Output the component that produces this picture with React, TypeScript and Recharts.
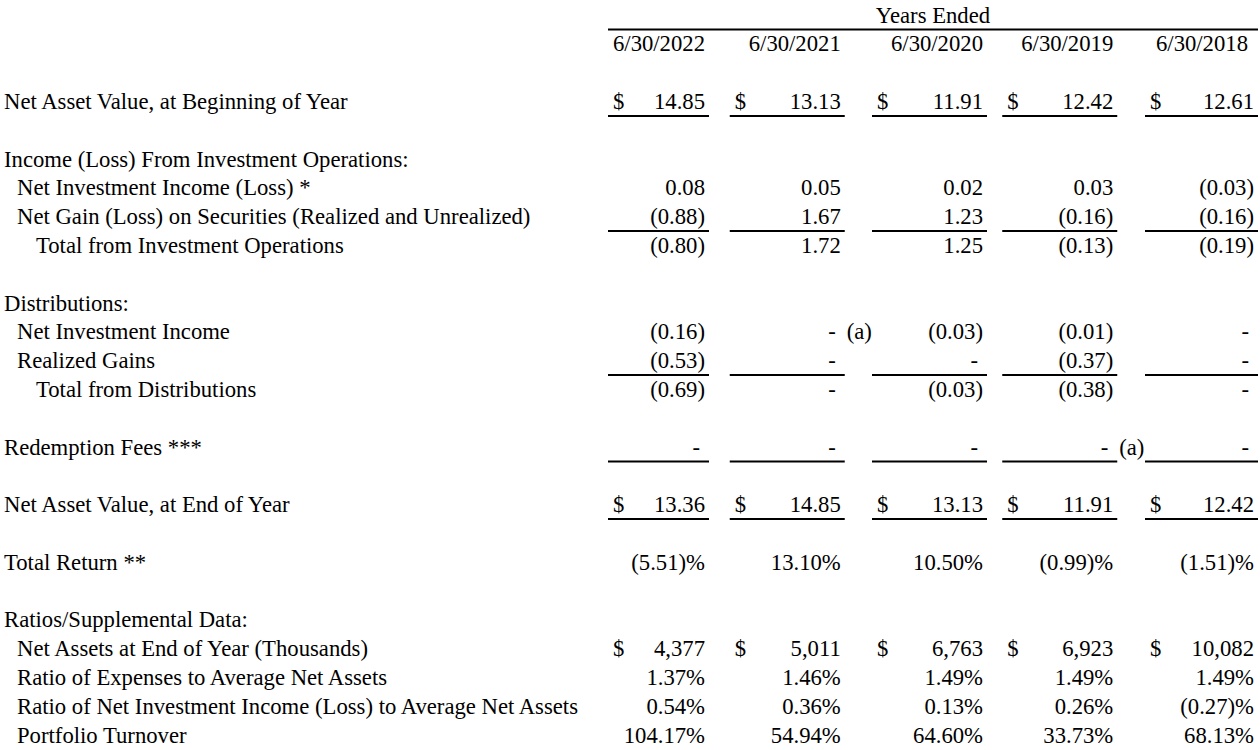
import { ScatterChart, Scatter, XAxis, YAxis } from 'recharts';

// column headers (fiscal years ended)
const years = ['6/30/2022', '6/30/2021', '6/30/2020', '6/30/2019', '6/30/2018'];

// per-share data, null = "-"
const navBeginning = [14.85, 13.13, 11.91, 12.42, 12.61];
const netInvestmentIncome = [0.08, 0.05, 0.02, 0.03, -0.03];
const netGainLoss = [-0.88, 1.67, 1.23, -0.16, -0.16];
const totalFromOperations = [-0.8, 1.72, 1.25, -0.13, -0.19];
const distNetInvestmentIncome = [-0.16, null, -0.03, -0.01, null];
const distRealizedGains = [-0.53, null, null, -0.37, null];
const totalDistributions = [-0.69, null, -0.03, -0.38, null];
const redemptionFees = [null, null, null, null, null];
const navEnd = [13.36, 14.85, 13.13, 11.91, 12.42];
const totalReturn = [-5.51, 13.1, 10.5, -0.99, -1.51];

// ratios / supplemental
const netAssetsThousands = [4377, 5011, 6763, 6923, 10082];
const expenseRatio = [1.37, 1.46, 1.49, 1.49, 1.49];
const netInvestmentIncomeRatio = [0.54, 0.36, 0.13, 0.26, -0.27];
const portfolioTurnover = [104.17, 54.94, 64.6, 33.73, 68.13];

// footnote marks
const distNiiNotes = [null, '(a)', null, null, null];
const redemptionNotes = [null, null, null, '(a)', null];

type Fmt = 'money' | 'pct' | 'thousands';

interface RowSpec {
  row: number;
  label: string;
  indent: number;
  values?: (number | null)[];
  fmt?: Fmt;
  dollar?: boolean;
  underline?: boolean;
  notes?: (string | null)[];
}

const ROWS: RowSpec[] = [
  { row: 3, label: 'Net Asset Value, at Beginning of Year', indent: 0, values: navBeginning, fmt: 'money', dollar: true, underline: true },
  { row: 5, label: 'Income (Loss) From Investment Operations:', indent: 0 },
  { row: 6, label: 'Net Investment Income (Loss) *', indent: 1, values: netInvestmentIncome, fmt: 'money' },
  { row: 7, label: 'Net Gain (Loss) on Securities (Realized and Unrealized)', indent: 1, values: netGainLoss, fmt: 'money', underline: true },
  { row: 8, label: 'Total from Investment Operations', indent: 2, values: totalFromOperations, fmt: 'money' },
  { row: 10, label: 'Distributions:', indent: 0 },
  { row: 11, label: 'Net Investment Income', indent: 1, values: distNetInvestmentIncome, fmt: 'money', notes: distNiiNotes },
  { row: 12, label: 'Realized Gains', indent: 1, values: distRealizedGains, fmt: 'money', underline: true },
  { row: 13, label: 'Total from Distributions', indent: 2, values: totalDistributions, fmt: 'money' },
  { row: 15, label: 'Redemption Fees ***', indent: 0, values: redemptionFees, fmt: 'money', underline: true, notes: redemptionNotes },
  { row: 17, label: 'Net Asset Value, at End of Year', indent: 0, values: navEnd, fmt: 'money', dollar: true, underline: true },
  { row: 19, label: 'Total Return **', indent: 0, values: totalReturn, fmt: 'pct' },
  { row: 21, label: 'Ratios/Supplemental Data:', indent: 0 },
  { row: 22, label: 'Net Assets at End of Year (Thousands)', indent: 1, values: netAssetsThousands, fmt: 'thousands', dollar: true },
  { row: 23, label: 'Ratio of Expenses to Average Net Assets', indent: 1, values: expenseRatio, fmt: 'pct' },
  { row: 24, label: 'Ratio of Net Investment Income (Loss) to Average Net Assets', indent: 1, values: netInvestmentIncomeRatio, fmt: 'pct' },
  { row: 25, label: 'Portfolio Turnover', indent: 1, values: portfolioTurnover, fmt: 'pct' },
];

// layout
const FONT = "'Liberation Serif', 'Times New Roman', serif";
const FONT_SIZE = 22.7;
const MARGIN = { top: 15, right: 58.5, bottom: 15, left: 658.5 };
const STEP = (1260 - MARGIN.left - MARGIN.right) / 4;
const COL_NUDGE = [0, -7, -0.5, -6, 0];
const COL_HALF = [50.5, 57.5, 57.5, 57.5, 56.5];
const DATE_NUDGE = [0, 0, 0, 0, -6];
const INDENT_X = [4, 17, 36];
const BASE_DY = 7.5;
const LINE_DY = 14.5;

function fmtValue(v: number | null, fmt?: Fmt): string {
  if (v === null) return '-';
  if (fmt === 'thousands') return v.toLocaleString('en-US');
  const s = Math.abs(v).toFixed(2);
  const body = v < 0 ? `(${s})` : s;
  return fmt === 'pct' ? body + '%' : body;
}

const cells: any[] = [];
cells.push({ col: 2, row: 0, kind: 'span', text: 'Years Ended' });
years.forEach((y, i) => cells.push({ col: i, row: 1, kind: 'date', text: y }));
ROWS.forEach(r => {
  if (!r.values) return;
  r.values.forEach((v, i) => {
    cells.push({
      col: i,
      row: r.row,
      kind: v === null ? 'dash' : 'value',
      text: fmtValue(v, r.fmt),
      dollar: r.dollar,
      underline: r.underline,
      note: r.notes ? r.notes[i] : null,
    });
  });
});

// row captions live in the first column, drawn left of the number grid
const labels = ROWS.map(r => ({ col: 0, row: r.row, label: r.label, indent: r.indent }));

const textStyle = { fontFamily: FONT, fontSize: FONT_SIZE, fill: '#000' };

function CellShape(props: any) {
  const { cx, cy, payload } = props;
  const c = payload.col;
  const baseline = cy + BASE_DY;

  if (payload.kind === 'span') {
    const left = cx - 2 * STEP + COL_NUDGE[0] - COL_HALF[0];
    const right = cx + 2 * STEP + COL_NUDGE[4] + COL_HALF[4];
    return (
      <g>
        <text x={(left + right) / 2} y={baseline} textAnchor="middle" {...textStyle}>{payload.text}</text>
        <line x1={left} x2={right} y1={cy + LINE_DY} y2={cy + LINE_DY} stroke="#000" strokeWidth={2} />
      </g>
    );
  }

  const center = cx + COL_NUDGE[c];
  const left = center - COL_HALF[c];
  const right = center + COL_HALF[c];
  const numRight = right - 4;
  let x = numRight;
  if (payload.kind === 'dash') x = numRight - 5;
  if (payload.kind === 'date') x = numRight + DATE_NUDGE[c];

  return (
    <g>
      {payload.dollar && (
        <text x={left + 5} y={baseline} {...textStyle}>$</text>
      )}
      <text x={x} y={baseline} textAnchor="end" {...textStyle}>
        {payload.text}
      </text>
      {payload.note && (
        <text x={numRight + 6} y={baseline} {...textStyle}>{payload.note}</text>
      )}
      {payload.underline && (
        <line x1={left} x2={right} y1={cy + LINE_DY} y2={cy + LINE_DY} stroke="#000" strokeWidth={2} />
      )}
    </g>
  );
}

function LabelShape(props: any) {
  const { cy, payload } = props;
  return (
    <text x={INDENT_X[payload.indent]} y={cy + BASE_DY} textAnchor="start" {...textStyle}>
      {payload.label}
    </text>
  );
}

export default function App() {
  return (
    <div style={{ position: 'absolute', left: 0, top: 0, width: 1260, height: 750, background: '#fff' }}>
      <ScatterChart width={1260} height={750} margin={MARGIN}>
        <XAxis type="number" dataKey="col" domain={[0, 4]} hide height={0} />
        <YAxis type="number" dataKey="row" domain={[0, 25]} reversed hide width={0} />
        <Scatter data={labels} shape={<LabelShape />} isAnimationActive={false} />
        <Scatter data={cells} shape={<CellShape />} isAnimationActive={false} />
      </ScatterChart>
    </div>
  );
}
